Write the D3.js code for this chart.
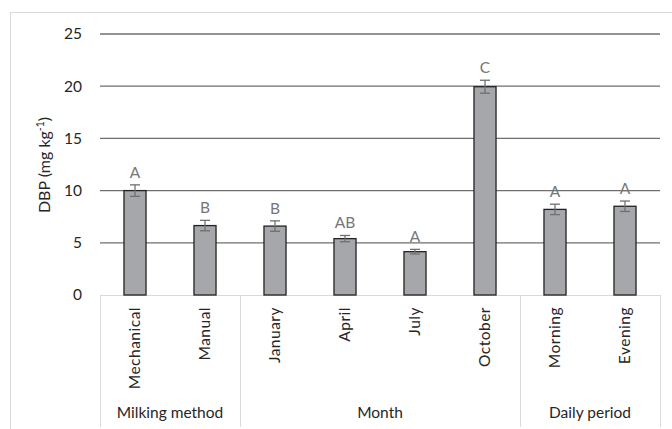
<!DOCTYPE html>
<html><head><meta charset="utf-8">
<script src="https://cdn.jsdelivr.net/npm/d3@7"></script>
<style>body{margin:0;background:#fff}svg{display:block}</style>
</head><body>
<script>
const categories = ["Mechanical","Manual","January","April","July","October","Morning","Evening"];
const values = [10.0, 6.65, 6.6, 5.4, 4.15, 19.95, 8.2, 8.5];
const errors = [0.55, 0.5, 0.5, 0.3, 0.22, 0.62, 0.5, 0.5];
const letters = ["A","B","B","AB","A","C","A","A"];
const groups = [{name:"Milking method", start:0, end:2},{name:"Month", start:2, end:6},{name:"Daily period", start:6, end:8}];
const yTicks = [0,5,10,15,20,25];

const W = 672, H = 429;
const font = "Lato, 'Open Sans', sans-serif";
const fs = 15.5;
const svg = d3.select("body").append("svg").attr("width", W).attr("height", H);

svg.append("rect").attr("x",10.5).attr("y",12.5).attr("width",700).attr("height",430)
  .attr("fill","none").attr("stroke","#d9d9d9");

const x = d3.scaleBand().domain(categories).range([100,660]).paddingInner(0.685).paddingOuter(0.3425);
const xPos = d3.scaleLinear().domain([0,categories.length]).range([100,660]);
const y = d3.scaleLinear().domain([0,25]).range([295,34]);

// gridlines
svg.append("g").selectAll("line").data(yTicks.filter(d=>d>0)).join("line")
  .attr("x1",100).attr("x2",660).attr("y1",d=>y(d)).attr("y2",d=>y(d))
  .attr("stroke","#6f6f6f").attr("stroke-width",1.3);

// y axis labels
const yAxis = d3.axisLeft(y).tickValues(yTicks).tickSize(0).tickPadding(18);
const ya = svg.append("g").attr("transform","translate(100,0)").call(yAxis);
ya.select(".domain").remove();
ya.selectAll("text").attr("font-family",font).attr("font-size",fs).attr("fill","#262626");

// y title
const yt = svg.append("text").attr("transform","translate(50,165) rotate(-90)")
  .attr("text-anchor","middle").attr("font-family",font).attr("font-size",16).attr("fill","#262626");
yt.append("tspan").text("DBP (mg kg");
yt.append("tspan").attr("dy",-6).attr("font-size",10.5).text("-1");
yt.append("tspan").attr("dy",6).text(")");

// category box lines
svg.append("line").attr("x1",100).attr("x2",660).attr("y1",295.5).attr("y2",295.5).attr("stroke","#d9d9d9");
const seps = [0].concat(groups.map(g=>g.end));
svg.append("g").selectAll("line").data(seps).join("line")
  .attr("x1",d=>Math.round(xPos(d))+0.5).attr("x2",d=>Math.round(xPos(d))+0.5)
  .attr("y1",295).attr("y2",427).attr("stroke","#d9d9d9");

// bars
svg.append("g").selectAll("rect").data(values).join("rect")
  .attr("x",(d,i)=>x(categories[i])).attr("width",x.bandwidth())
  .attr("y",d=>y(d)).attr("height",d=>y(0)-y(d))
  .attr("fill","#a6a7aa").attr("stroke","#222").attr("stroke-width",1.3);

// error bars
const eb = svg.append("g").attr("stroke","#707070").attr("stroke-width",1.3);
values.forEach((v,i)=>{
  const cx = x(categories[i]) + x.bandwidth()/2;
  eb.append("line").attr("x1",cx).attr("x2",cx).attr("y1",y(v+errors[i])).attr("y2",y(v-errors[i]));
  eb.append("line").attr("x1",cx-5).attr("x2",cx+5).attr("y1",y(v+errors[i])).attr("y2",y(v+errors[i]));
  eb.append("line").attr("x1",cx-5).attr("x2",cx+5).attr("y1",y(v-errors[i])).attr("y2",y(v-errors[i]));
});

// letters
svg.append("g").selectAll("text").data(letters).join("text")
  .attr("x",(d,i)=>x(categories[i]) + x.bandwidth()/2)
  .attr("y",(d,i)=>y(values[i]+errors[i]) - 7)
  .attr("text-anchor","middle").attr("font-family",font).attr("font-size",fs).attr("fill","#767676")
  .text(d=>d);

// category labels
svg.append("g").selectAll("text").data(categories).join("text")
  .attr("transform",d=>`translate(${x(d)+x.bandwidth()/2+5},307) rotate(-90)`)
  .attr("text-anchor","end").attr("font-family",font).attr("font-size",fs).attr("fill","#262626")
  .attr("letter-spacing",0.5)
  .text(d=>d);

// group labels
svg.append("g").selectAll("text").data(groups).join("text")
  .attr("x",g=>(xPos(g.start)+xPos(g.end))/2).attr("y",418)
  .attr("text-anchor","middle").attr("font-family",font).attr("font-size",fs).attr("fill","#262626")
  .text(g=>g.name);
</script>
</body></html>
